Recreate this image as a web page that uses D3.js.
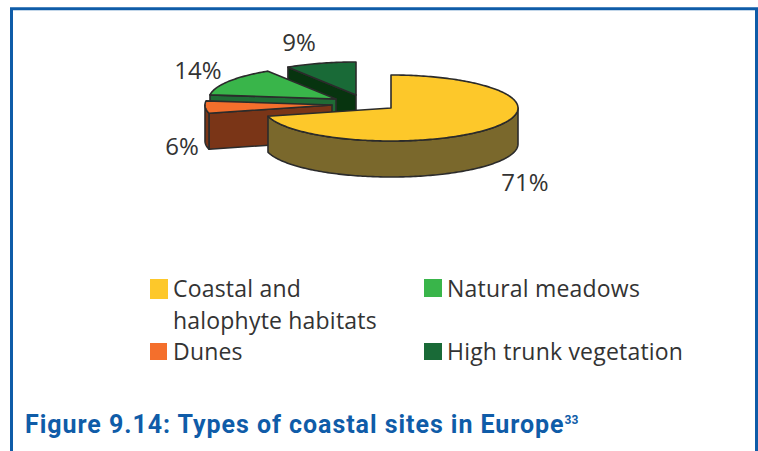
<!DOCTYPE html>
<html><head><meta charset="utf-8">
<script src="https://cdn.jsdelivr.net/npm/d3@7"></script>
<style>html,body{margin:0;padding:0;background:#fff}svg{display:block}</style>
</head><body><svg id="c" width="758" height="451"></svg>
<script>
const categories = ["Coastal and halophyte habitats","Dunes","Natural meadows","High trunk vegetation"];
const values = [71,6,14,9];
const pctLabels = ["71%","6%","14%","9%"];
const topColors = ["#fdc82a","#f46f2c","#39b54a","#196a37"];
const wallColors = ["#7a682c","#7a3517","#1f6b35","#07340f"];
const legendLines = [["Coastal and","halophyte habitats"],["Dunes"],["Natural meadows"],["High trunk vegetation"]];

const RX=127, RY=33, DEPTH=36, INK="#2b2b2b";
const FONT="'Open Sans',sans-serif";
const svg=d3.select("#c");

// frame
svg.append("path").attr("d","M11.5,451V8.8H756.5V451").attr("fill","none").attr("stroke","#0f5ca8").attr("stroke-width",3);

// slice centres (exploded pie)
const centres=[[391,108],[332,105],[336,99],[356,95]];
const labelPos=[[525,191],[182,155],[198,79],[299,51]];

const arcs=d3.pie().sort(null).value(d=>d)(values);
const sx=d3.scaleLinear().domain([-1,1]).range([-RX,RX]);
const sy=d3.scaleLinear().domain([-1,1]).range([-RY,RY]);
const pt=(a,dy=0)=>[sx(Math.sin(a)),sy(-Math.cos(a))+dy];
const line=d3.line();
const samples=(a0,a1,dy)=>{const n=Math.max(2,Math.ceil((a1-a0)/0.02));return d3.range(n+1).map(i=>pt(a0+(a1-a0)*i/n,dy));};

const order=[3,2,1,0];
const piece=svg.append("g").selectAll("g").data(order).join("g")
  .attr("transform",i=>`translate(${centres[i][0]},${centres[i][1]})`);

piece.each(function(i){
  const g=d3.select(this),d=arcs[i],a0=d.startAngle,a1=d.endAngle;
  const style=s=>s.attr("stroke",INK).attr("stroke-width",1.6).attr("stroke-linejoin","round");
  // start-edge radial wall, seen for the three exploded slices
  if(i>0){
    g.append("path").attr("d",line([[0,0],pt(a0),pt(a0,DEPTH),[0,DEPTH]])+"Z").attr("fill",wallColors[i]).call(style);
  }
  // outer wall: front half of the rim only
  const lo=Math.max(a0,Math.PI/2), hi=Math.min(a1,3*Math.PI/2);
  if(hi>lo){
    const poly=samples(lo,hi,0).concat(samples(lo,hi,DEPTH).reverse());
    g.append("path").attr("d",line(poly)+"Z").attr("fill",wallColors[i]).call(style);
  }
  // top face
  g.append("path").attr("d",line([[0,0]].concat(samples(a0,a1,0)))+"Z").attr("fill",topColors[i]).call(style);
});

// percentage labels
svg.append("g").selectAll("text").data(pctLabels).join("text")
  .attr("x",(d,i)=>labelPos[i][0]).attr("y",(d,i)=>labelPos[i][1])
  .attr("text-anchor","middle").attr("font-family",FONT).attr("font-size",24).attr("fill","#333").text(d=>d);

// legend
const legendX=[150,150,424,424], legendY=[279,343,279,343], swH=[20,17,18,17], swW=[18,17,18,18], rowH=31.5;
const leg=svg.append("g").selectAll("g").data(categories).join("g");
leg.append("rect").attr("x",(d,i)=>legendX[i]).attr("y",(d,i)=>legendY[i]).attr("width",(d,i)=>swW[i]).attr("height",(d,i)=>swH[i]).attr("fill",(d,i)=>topColors[i]);
leg.each(function(d,i){
  d3.select(this).selectAll("text").data(legendLines[i]).join("text")
   .attr("x",legendX[i]+23).attr("y",(t,j)=>legendY[i]+(i%2?17:18)+j*rowH)
   .attr("font-family",FONT).attr("font-size",23).attr("letter-spacing",0.2).attr("fill","#333").text(t=>t);
});

// title
const title=svg.append("text").attr("x",25).attr("y",433).attr("font-family","Roboto,sans-serif").attr("font-weight",700).attr("font-size",25).attr("letter-spacing",0.95).attr("fill","#0f5ca8");
title.append("tspan").text("Figure 9.14: Types of coastal sites in Europe");
title.append("tspan").attr("font-size",12).attr("dy",-9).attr("letter-spacing",0).text("33");
</script></body></html>
